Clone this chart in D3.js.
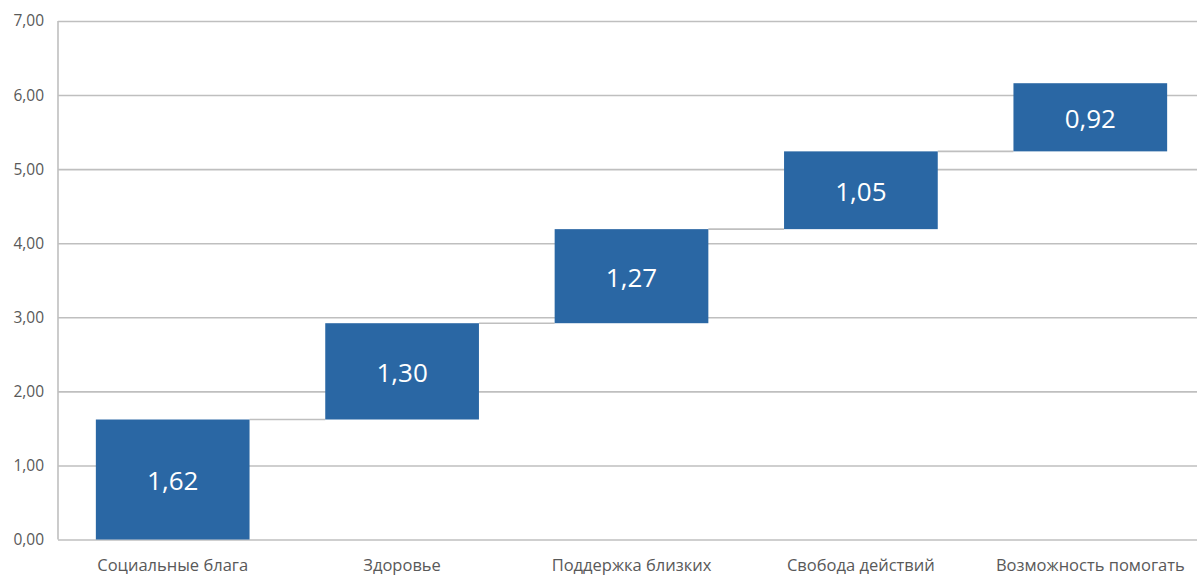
<!DOCTYPE html>
<html>
<head>
<meta charset="utf-8">
<script src="https://cdn.jsdelivr.net/npm/d3@7"></script>
<style>
  html, body { margin: 0; padding: 0; background: #fff; }
  svg text { font-family: "Open Sans", "Noto Sans", sans-serif; }
</style>
</head>
<body>
<div id="chart"></div>
<script>
// waterfall data
const categories = ["Социальные блага", "Здоровье", "Поддержка близких", "Свобода действий", "Возможность помогать"];
const values = [1.62, 1.30, 1.27, 1.05, 0.92];
const yTicks = [0, 1, 2, 3, 4, 5, 6, 7];

const width = 1197, height = 576;
const margin = {top: 21, right: -8, bottom: 36.5, left: 58};

const fmt = v => d3.format(".2f")(v).replace(".", ",");

// running totals for each step
let run = 0;
const steps = values.map((v, i) => {
    const s = {cat: categories[i], value: v, start: run, end: run + v};
    run += v;
    return s;
});

const x = d3.scaleBand()
    .domain(categories)
    .range([margin.left, width - margin.right])
    .paddingInner(0.33)
    .paddingOuter(0.165);

const y = d3.scaleLinear()
    .domain([0, 7])
    .range([height - margin.bottom, margin.top]);

const svg = d3.select("#chart").append("svg")
    .attr("width", width)
    .attr("height", height);

// gridlines
const yAxis = d3.axisLeft(y)
    .tickValues(yTicks)
    .tickSize(-(width - margin.right - margin.left))
    .tickFormat(fmt);

const yAxisEl = svg.append("g")
    .attr("class", "y-axis")
    .attr("transform", "translate(" + margin.left + ",0)")
    .call(yAxis);

yAxisEl.select(".domain").remove();
yAxisEl.selectAll("line").attr("stroke", "#bfbfbf").attr("stroke-width", 1.6);
yAxisEl.selectAll("text")
    .attr("x", -14)
    .attr("fill", "#595959")
    .style("font-size", "15.5px");

// left axis line
svg.append("line")
    .attr("x1", margin.left).attr("x2", margin.left)
    .attr("y1", y(7)).attr("y2", y(0))
    .attr("stroke", "#bfbfbf").attr("stroke-width", 1.6);

// connectors between steps
svg.append("g").selectAll("line")
    .data(steps.slice(0, -1))
    .join("line")
    .attr("x1", d => x(d.cat) + x.bandwidth())
    .attr("x2", (d, i) => x(categories[i + 1]))
    .attr("y1", d => y(d.end))
    .attr("y2", d => y(d.end))
    .attr("stroke", "#bfbfbf")
    .attr("stroke-width", 1.6);

// bars
svg.append("g").selectAll("rect")
    .data(steps)
    .join("rect")
    .attr("x", d => x(d.cat))
    .attr("width", x.bandwidth())
    .attr("y", d => y(d.end))
    .attr("height", d => y(d.start) - y(d.end))
    .attr("fill", "#2a67a4");

// value labels
svg.append("g").selectAll("text")
    .data(steps)
    .join("text")
    .attr("x", d => x(d.cat) + x.bandwidth() / 2)
    .attr("y", d => (y(d.start) + y(d.end)) / 2)
    .attr("dy", "0.42em")
    .attr("text-anchor", "middle")
    .attr("fill", "#ffffff")
    .style("font-size", "26px")
    .text(d => fmt(d.value));

// category labels
const xAxis = d3.axisBottom(x).tickSize(0).tickPadding(20);
const xAxisEl = svg.append("g")
    .attr("class", "x-axis")
    .attr("transform", "translate(0," + y(0) + ")")
    .call(xAxis);
xAxisEl.select(".domain").remove();
xAxisEl.selectAll("text")
    .attr("fill", "#595959")
    .style("font-size", "16.5px");
</script>
</body>
</html>
